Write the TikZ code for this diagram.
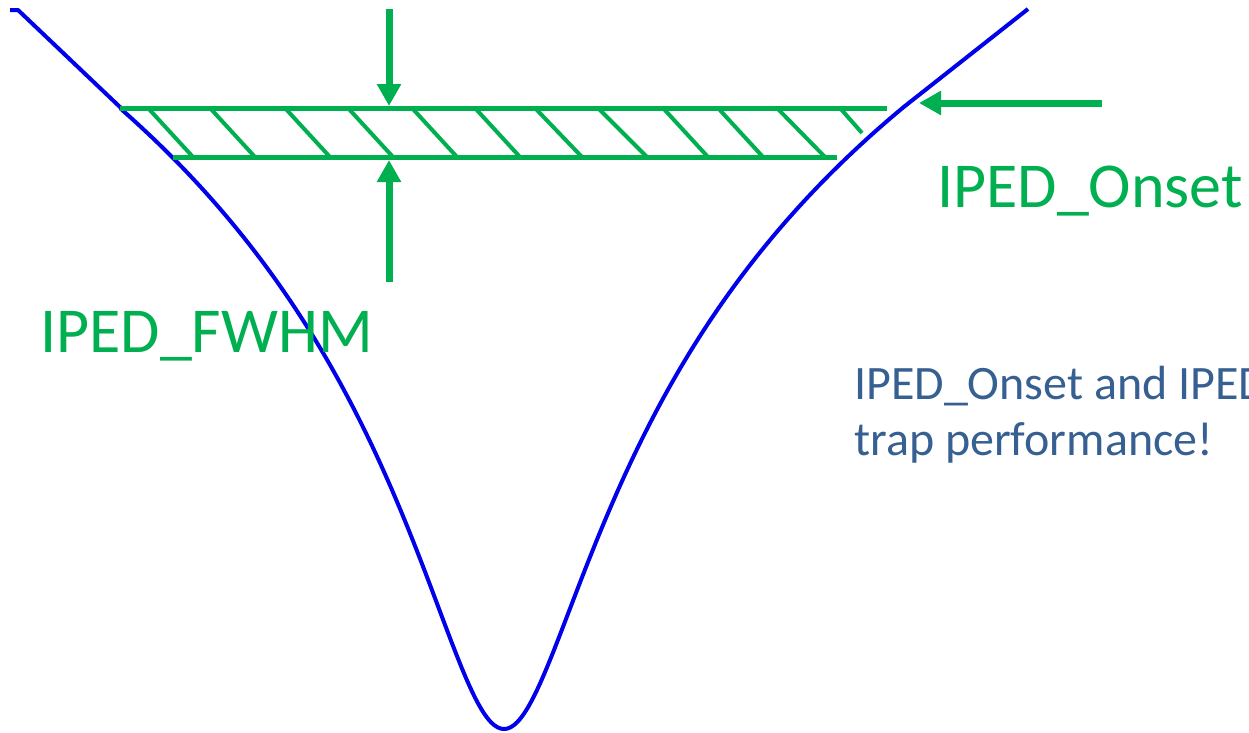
\documentclass[tikz,border=0pt]{standalone}
\usepackage{fontspec}
\setmainfont{Carlito}
\usetikzlibrary{arrows.meta}
\definecolor{pgreen}{HTML}{00B050}
\definecolor{ptext}{HTML}{376092}
\definecolor{pblue}{RGB}{0,0,235}
\begin{document}
\begin{tikzpicture}[x=1pt,y=-1pt,
  curve/.style={draw=pblue, line width=4pt, line join=round},
  bar/.style={draw=pgreen, line width=5pt},
  hatch/.style={draw=pgreen, line width=4pt},
  marker/.style={draw=pgreen, line width=7pt, -{Triangle[length=22pt,width=23pt]}},
  lbl/.style={anchor=base west, inner sep=0pt, text=pgreen, font=\fontsize{64}{77}\selectfont},
  note/.style={anchor=base west, inner sep=0pt, text=ptext, font=\fontsize{48}{58}\selectfont}]
\useasboundingbox (0,0) rectangle (1249,732);
\clip (0,0) rectangle (1249,732);
\fill[white] (0,0) rectangle (1249,732);

% curve
\draw[curve] (10,10) -- (18,10) -- (121,108)
  -- plot[domain=-383:0, samples=120, smooth] ({504+\x},{729-173.4*ln(1+(\x/65)*(\x/65))})
  -- plot[domain=0:400, samples=120, smooth] ({504+\x},{729-170*ln(1+(\x/65)*(\x/65))})
  -- (1028,9);

% band
\coordinate (tl) at (120,108);
\coordinate (tr) at (887,108);
\coordinate (bl) at (173,157);
\coordinate (br) at (837,157);
\draw[bar] (tl) -- (tr);
\draw[bar] (bl) -- (br);
\foreach \a/\b in {148/193, 210/255, 285/330, 348/393, 412/457, 475/520, 535/582, 598/647, 663/708, 718/763, 777/825}
  \draw[hatch] (\a,108) -- (\b,157);
\draw[hatch] (840,108) -- (862,133);

% arrows
\coordinate (a1s) at (389,9);
\coordinate (a1e) at (389,106);
\coordinate (a2s) at (389,282);
\coordinate (a2e) at (389,160);
\coordinate (a3s) at (1102,103);
\coordinate (a3e) at (919,103);
\draw[marker] (a1s) -- (a1e);
\draw[marker] (a2s) -- (a2e);
\draw[marker] (a3s) -- (a3e);

% labels
\node[lbl] (fwhm) at (40,352) {IPED\_FWHM};
\node[lbl] (onset) at (937,207) {IPED\_Onset};
\node[note] (n1) at (854,399) {IPED\_Onset and IPED};
\node[note] (n2) at (854,455) {trap performance!};
\end{tikzpicture}
\end{document}
